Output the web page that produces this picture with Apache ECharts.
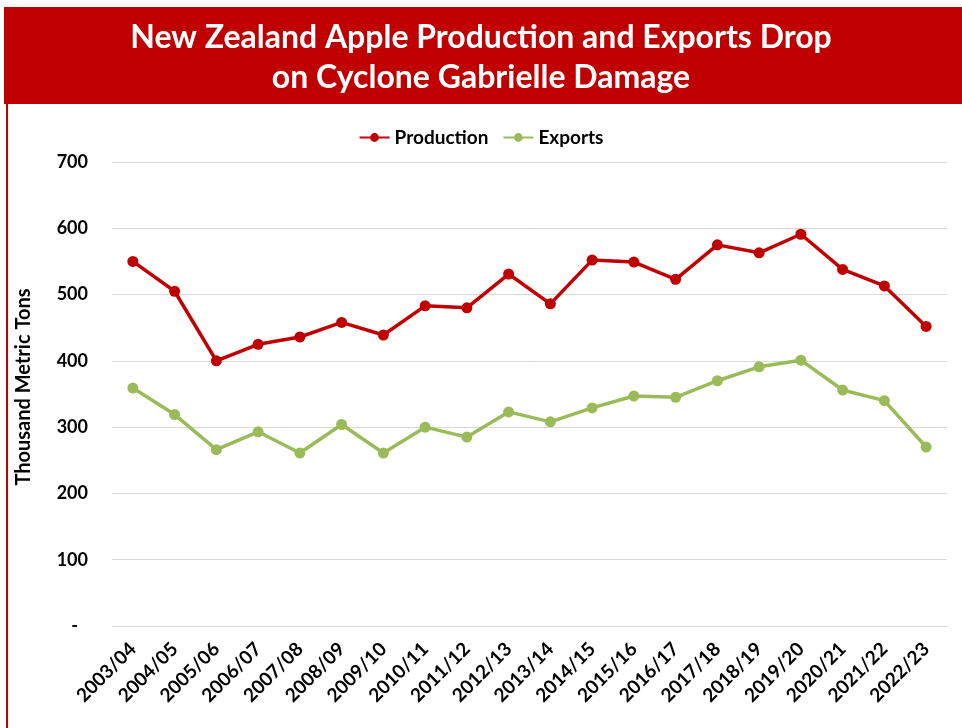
<!DOCTYPE html>
<html><head><meta charset="utf-8">
<script src="https://cdn.jsdelivr.net/npm/echarts@6/dist/echarts.min.js"></script>
<style>html,body{margin:0;padding:0;background:#fff}#c{width:962px;height:728px}</style>
</head><body><div id="c"></div>
<script>
const categories = ['2003/04','2004/05','2005/06','2006/07','2007/08','2008/09','2009/10','2010/11','2011/12','2012/13','2013/14','2014/15','2015/16','2016/17','2017/18','2018/19','2019/20','2020/21','2021/22','2022/23'];
const production = [550,505,400,425,436,458,439,483,480,531,486,552,549,523,575,563,591,538,513,452];
const exportsData = [359,319,266,293,261,304,261,300,285,323,308,329,347,345,370,391,401,356,340,270];
const titleLines = ['New Zealand Apple Production and Exports Drop','on Cyclone Gabrielle Damage'];
const seriesNames = ['Production','Exports'];
const yAxisName = 'Thousand Metric Tons';

const RED = '#C00000', GREEN = '#9BBB59';
const FONT = 'Lato, "Open Sans", sans-serif';
const chart = echarts.init(document.getElementById('c'), null, {renderer:'canvas'});
chart.setOption({
  backgroundColor: '#fff',
  animation: false,
  graphic: [
    {type:'rect', left:4, top:7, shape:{width:958, height:97}, style:{fill:RED}, z:0},
    {type:'rect', left:6, top:100, shape:{width:2, height:628}, style:{fill:RED}, z:0},
    {type:'text', left:'center', top:18, style:{text:titleLines.join('\n'), fill:'#fff', font:'bold 32px ' + FONT, textAlign:'center', lineHeight:40}, z:10}
  ],
  legend: {
    top: 123, left: 'center', itemGap: 14, itemWidth: 30, itemHeight: 11,
    textStyle: {fontFamily: FONT, fontWeight: 'bold', fontSize: 19, color: '#000'},
    data: seriesNames
  },
  grid: {left:112, right:15, top:162, bottom:102},
  xAxis: {
    type:'category', data: categories, boundaryGap: true,
    axisLine:{show:true, lineStyle:{color:'#D9D9D9'}}, axisTick:{show:false},
    axisLabel:{rotate:45, interval:0, margin:20, color:'#000', fontFamily:FONT, fontWeight:'bold', fontSize:19}
  },
  yAxis: {
    type:'value', min:0, max:700, interval:100,
    name: yAxisName, nameLocation:'middle', nameGap:78, nameRotate:90,
    nameTextStyle:{fontFamily:FONT, fontWeight:'bold', fontSize:20, color:'#000', padding:[0,0,0,14]},
    axisLine:{show:false}, axisTick:{show:false},
    splitLine:{lineStyle:{color:'#D9D9D9', width:1}},
    axisLabel:{margin:24, color:'#000', fontFamily:FONT, fontWeight:'bold', fontSize:18,
      formatter: v => v === 0 ? '{d|-}' : String(v),
      rich:{d:{padding:[0,10,0,0], fontFamily:FONT, fontWeight:'bold', fontSize:18, color:'#000'}}}
  },
  series: [
    {name: seriesNames[0], type:'line', data: production, color: RED, symbol:'circle', symbolSize:11,
     lineStyle:{width:3.5, color:RED}, itemStyle:{color:RED}},
    {name: seriesNames[1], type:'line', data: exportsData, color: GREEN, symbol:'circle', symbolSize:11,
     lineStyle:{width:3.5, color:GREEN}, itemStyle:{color:GREEN}}
  ]
});
</script></body></html>
